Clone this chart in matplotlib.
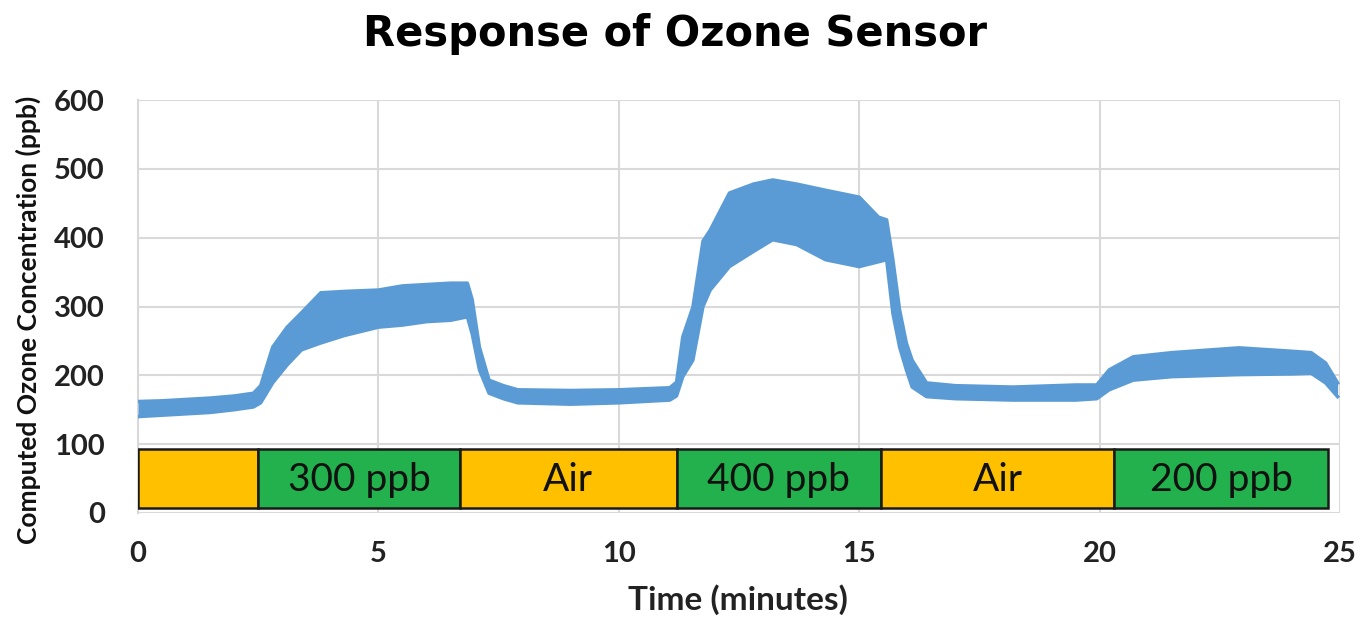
import matplotlib
matplotlib.use('Agg')
from matplotlib import pyplot as plt
from matplotlib.patches import Rectangle

# envelope of the noisy sensor trace (minutes, ppb)
tempo = [0.0, 0.5, 1.0, 1.5, 2.0, 2.4, 2.55, 2.8, 3.1, 3.4, 3.8, 4.3, 5.0, 5.5,
         6.0, 6.5, 6.85, 6.95, 7.1, 7.3, 7.6, 7.9, 9.0, 10.0, 11.06, 11.2, 11.33,
         11.54, 11.75, 11.9, 12.3, 12.8, 13.2, 13.7, 14.3, 15.0, 15.4, 15.57, 15.7,
         15.84, 15.98, 16.1, 16.4, 17.0, 18.2, 19.5, 19.94, 20.2, 20.7, 21.5, 22.9,
         24.0, 24.4, 24.7, 24.95]
minimo = [140, 142, 144, 146, 150, 154, 160, 189, 215, 237, 247, 258, 270, 273,
          278, 280, 285, 260, 208, 174, 166, 160, 158, 160, 164, 170, 198,
          222, 300, 324, 358, 380, 397, 390, 368, 358, 365, 368, 290,
          241, 208, 183, 169, 166, 164, 164, 166, 179, 193, 198, 201,
          202, 203, 189, 169]
maximo = [162, 163, 165, 167, 170, 174, 185, 241, 270, 291, 320, 322, 324, 330,
          332, 334, 334, 310, 241, 193, 185, 179, 178, 179, 182, 190, 256,
          299, 395, 411, 465, 478, 484, 478, 469, 459, 430, 426, 368,
          295, 247, 222, 189, 185, 183, 186, 186, 208, 227, 233, 240,
          235, 233, 218, 189]

# gas exposure phases along the bottom
fase_inicio = [0.0, 2.5, 6.7, 11.2, 15.45, 20.3]
fase_fim = [2.5, 6.7, 11.2, 15.45, 20.3, 24.75]
fase_nome = ['', '300 ppb', 'Air', '400 ppb', 'Air', '200 ppb']
fase_cor = ['#FFC000', '#22B14C', '#FFC000', '#22B14C', '#FFC000', '#22B14C']

fig = plt.figure(figsize=(13.71, 6.18), dpi=100)
ax = fig.add_axes([0.1007, 0.170, 0.8767, 0.668])

azul = '#5B9BD5'
ax.fill_between(tempo, minimo, maximo, color=azul, linewidth=0, zorder=3)
ax.plot(tempo, minimo, color=azul, linewidth=2.5, zorder=3)
ax.plot(tempo, maximo, color=azul, linewidth=2.5, zorder=3)

# phase boxes
for ini, fim, nome, cor in zip(fase_inicio, fase_fim, fase_nome, fase_cor):
    ax.add_patch(Rectangle((ini, 7), fim - ini, 86, facecolor=cor,
                           edgecolor='#1a1a1a', linewidth=1.8, zorder=4))
    if nome:
        ax.text((ini + fim) / 2, 48, nome, ha='center', va='center',
                fontsize=28, family='Lato', color='#111111', zorder=5)

ax.set_xlim(0, 25)
ax.set_ylim(0, 600)
ax.set_xticks(range(0, 26, 5))
ax.set_yticks(range(0, 601, 100))
ax.grid(True, color='#D9D9D9', linewidth=1.5, zorder=0)
for lado in ['top', 'right', 'bottom']:
    ax.spines[lado].set_visible(False)
ax.spines['left'].set_color('#D9D9D9')
ax.spines['left'].set_linewidth(1.5)
ax.tick_params(axis='y', length=0, pad=24)
ax.tick_params(axis='x', length=0, pad=20)
for rotulo in ax.get_xticklabels() + ax.get_yticklabels():
    rotulo.set_fontsize(21)
    rotulo.set_fontweight('bold')
    rotulo.set_family('Lato')
    rotulo.set_color('#222222')

fig.text(0.492, 0.945, 'Response of Ozone Sensor', ha='center', va='center',
         fontsize=30, fontweight='bold', family='DejaVu Sans')
fig.text(0.538, 0.029, 'Time (minutes)', ha='center', va='center',
         fontsize=24, fontweight='bold', family='Lato', color='#222222')
fig.text(0.021, 0.482, 'Computed Ozone Concentration (ppb)', ha='center',
         va='center', rotation=90, fontsize=19, fontweight='bold',
         family='Lato', color='#111111')

fig.savefig('out.png', dpi=100)
